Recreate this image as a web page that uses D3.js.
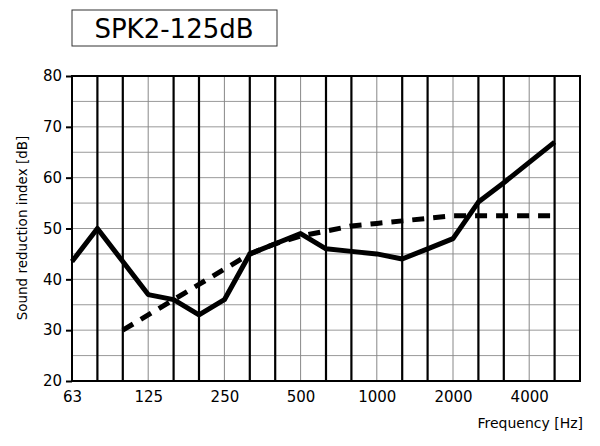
<!DOCTYPE html>
<html><head><meta charset="utf-8">
<script src="https://cdn.jsdelivr.net/npm/d3@7"></script>
<style>body{margin:0;background:#fff}</style></head>
<body><svg id="c" width="600" height="446"></svg>
<script>
const bands=["63","80","100","125","160","200","250","315","400","500","630","800","1000","1250","1600","2000","2500","3150","4000","5000","6300"];
const xLabels=["63","125","250","500","1000","2000","4000"];
const yTicks=[20,30,40,50,60,70,80];
const measured=[43.5,50,43.5,37,36,33,36,45,47,49,46,45.5,45,44,46,48,55.2,59,63,67];
const reference=[null,null,30,33,36,39,42,45,47,48.5,49.5,50.5,51,51.5,52,52.5,52.5,52.5,52.5,52.5];

const svg=d3.select("#c");
const L=72,R=580,T=76,B=381;
const x=d3.scaleLinear().domain([0,20]).range([L,R]);
const y=d3.scaleLinear().domain([20,80]).range([B,T]);
const font="'DejaVu Sans', sans-serif";

d3.range(20,81,5).forEach(v=>svg.append("line").attr("x1",L).attr("x2",R).attr("y1",y(v)).attr("y2",y(v)).attr("stroke","#999").attr("stroke-width",1));
bands.forEach((b,i)=>{
  if(i===0||i===20) return;
  const oct=xLabels.includes(b);
  svg.append("line").attr("x1",x(i)).attr("x2",x(i)).attr("y1",T).attr("y2",B)
    .attr("stroke",oct?"#888":"#000").attr("stroke-width",oct?1:2.2);
});
svg.append("rect").attr("x",L).attr("y",T).attr("width",R-L).attr("height",B-T).attr("fill","none").attr("stroke","#000").attr("stroke-width",2);

const ya=svg.append("g").attr("transform",`translate(${L},0)`).call(d3.axisLeft(y).tickValues(yTicks).tickSize(6).tickPadding(4));
ya.select(".domain").remove();
ya.selectAll("line").attr("stroke-width",2);
ya.selectAll("text").attr("font-family",font).attr("font-size",15).attr("fill","#000");
const xa=svg.append("g").attr("transform",`translate(0,${B})`).call(d3.axisBottom(x).tickValues(xLabels.map(l=>bands.indexOf(l))).tickFormat(i=>bands[i]).tickSize(0).tickPadding(10));
xa.select(".domain").remove();
xa.selectAll("text").attr("font-family",font).attr("font-size",15).attr("fill","#000");

svg.append("text").attr("x",583).attr("y",428).attr("text-anchor","end").attr("font-family",font).attr("font-size",14).text("Frequency [Hz]");
svg.append("text").attr("transform","translate(27,228) rotate(-90)").attr("text-anchor","middle").attr("font-family",font).attr("font-size",13.5).text("Sound reduction index [dB]");

svg.append("rect").attr("x",72).attr("y",10).attr("width",205).attr("height",36).attr("fill","#fff").attr("stroke","#333").attr("stroke-width",1);
svg.append("text").attr("x",174).attr("y",38).attr("text-anchor","middle").attr("font-family",font).attr("font-size",26).text("SPK2-125dB");

const line=d3.line().defined(d=>d!=null).x((d,i)=>x(i)).y(d=>y(d));
svg.append("path").datum(reference).attr("d",line).attr("fill","none").attr("stroke","#000").attr("stroke-width",5).attr("stroke-dasharray","12,9");
svg.append("path").datum(measured).attr("d",line).attr("fill","none").attr("stroke","#000").attr("stroke-width",5).attr("stroke-linejoin","round");
</script></body></html>
